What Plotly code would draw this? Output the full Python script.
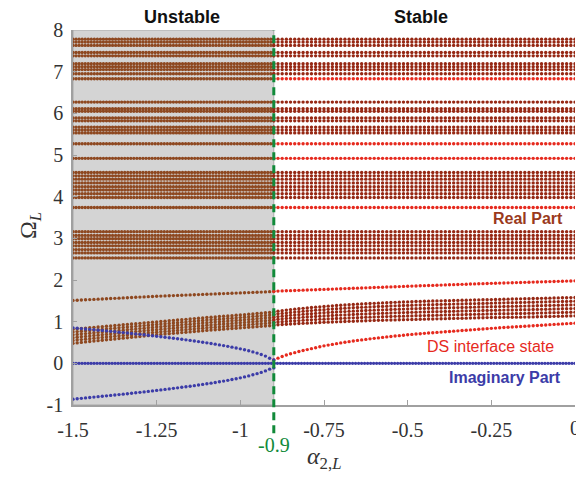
import numpy as np
import plotly.graph_objects as go

# ---------------------------------------------------------------------------
# Sweep grids of the coupling parameter alpha_2,L
# ---------------------------------------------------------------------------
x_rows_unstable = np.linspace(-1.5, -0.9, 67)   # flat bulk rows, alpha < -0.9
x_rows_stable = np.linspace(-0.9, 0.0, 73)      # flat bulk rows, alpha > -0.9
x_curve_unstable = np.linspace(-1.5, -0.9, 49)  # dispersive branches, alpha < -0.9
x_curve_stable = np.linspace(-0.9, 0.0, 73)     # dispersive branches, alpha > -0.9
x_zero = np.linspace(-1.5, 0.0, 168)            # purely real eigenvalues (Im = 0)

# ---------------------------------------------------------------------------
# Flat eigenfrequency levels (real part)
# ---------------------------------------------------------------------------
bulk_levels = [7.78, 7.71, 7.63, 7.46, 7.38, 7.19, 7.12, 7.05, 6.95,
               6.27, 6.11, 6.05, 5.89, 5.82, 5.67, 5.60, 5.53,
               4.58, 4.50, 4.42, 4.33, 4.24, 4.16, 4.07, 3.98,
               3.16, 3.07, 2.99, 2.90, 2.82, 2.73, 2.65, 2.53]
edge_levels = [6.83, 5.27, 4.92, 3.74]

# ---------------------------------------------------------------------------
# Dispersive branches
# ---------------------------------------------------------------------------
# isolated branch near 1.5-2.0
mid_unstable = [1.510, 1.515, 1.520, 1.525, 1.530, 1.535, 1.540, 1.545, 1.550, 1.555,
                1.560, 1.565, 1.570, 1.575, 1.580, 1.585, 1.590, 1.595, 1.600, 1.605,
                1.610, 1.614, 1.618, 1.622, 1.626, 1.630, 1.634, 1.638, 1.642, 1.646,
                1.650, 1.654, 1.658, 1.662, 1.666, 1.670, 1.674, 1.678, 1.682, 1.686,
                1.690, 1.694, 1.698, 1.702, 1.706, 1.710, 1.715, 1.720, 1.725]
mid_stable = [1.730, 1.734, 1.738, 1.741, 1.745, 1.749, 1.752, 1.756, 1.760, 1.764,
              1.767, 1.771, 1.775, 1.779, 1.782, 1.786, 1.790, 1.794, 1.797, 1.801,
              1.805, 1.809, 1.812, 1.816, 1.820, 1.824, 1.827, 1.831, 1.835, 1.839,
              1.842, 1.846, 1.850, 1.854, 1.857, 1.861, 1.864, 1.868, 1.871, 1.875,
              1.878, 1.882, 1.885, 1.889, 1.892, 1.896, 1.899, 1.903, 1.906, 1.910,
              1.913, 1.917, 1.920, 1.923, 1.926, 1.929, 1.932, 1.935, 1.938, 1.941,
              1.944, 1.947, 1.950, 1.953, 1.956, 1.959, 1.962, 1.965, 1.968, 1.971,
              1.974, 1.977, 1.980]

# lowest bulk band: lower and upper edges
band_lo_unstable = [0.480, 0.491, 0.503, 0.514, 0.525, 0.535, 0.545, 0.555, 0.565, 0.575,
                    0.585, 0.595, 0.605, 0.615, 0.625, 0.635, 0.645, 0.655, 0.665, 0.675,
                    0.685, 0.694, 0.703, 0.711, 0.720, 0.729, 0.738, 0.746, 0.755, 0.764,
                    0.773, 0.781, 0.790, 0.798, 0.805, 0.813, 0.820, 0.828, 0.835, 0.843,
                    0.850, 0.858, 0.865, 0.873, 0.880, 0.888, 0.895, 0.903, 0.910]
band_hi_unstable = [0.820, 0.829, 0.838, 0.846, 0.855, 0.864, 0.873, 0.881, 0.890, 0.899,
                    0.908, 0.916, 0.925, 0.934, 0.943, 0.951, 0.960, 0.969, 0.978, 0.986,
                    0.995, 1.004, 1.013, 1.021, 1.030, 1.039, 1.048, 1.056, 1.065, 1.074,
                    1.083, 1.091, 1.100, 1.108, 1.115, 1.123, 1.130, 1.138, 1.145, 1.153,
                    1.160, 1.169, 1.178, 1.186, 1.195, 1.204, 1.213, 1.221, 1.230]
band_lo_stable = [0.920, 0.926, 0.933, 0.939, 0.945, 0.950, 0.955, 0.960, 0.965, 0.970,
                  0.975, 0.980, 0.985, 0.989, 0.993, 0.996, 1.000, 1.004, 1.008, 1.011,
                  1.015, 1.019, 1.023, 1.026, 1.030, 1.033, 1.035, 1.038, 1.040, 1.043,
                  1.045, 1.048, 1.050, 1.053, 1.055, 1.058, 1.060, 1.063, 1.065, 1.068,
                  1.070, 1.073, 1.075, 1.078, 1.080, 1.083, 1.085, 1.088, 1.090, 1.093,
                  1.095, 1.098, 1.100, 1.101, 1.103, 1.104, 1.105, 1.106, 1.108, 1.109,
                  1.110, 1.113, 1.115, 1.118, 1.120, 1.123, 1.125, 1.128, 1.130, 1.133,
                  1.135, 1.138, 1.140]
band_hi_stable = [1.240, 1.253, 1.265, 1.278, 1.290, 1.300, 1.310, 1.320, 1.330, 1.339,
                  1.348, 1.356, 1.365, 1.373, 1.380, 1.388, 1.395, 1.401, 1.408, 1.414,
                  1.420, 1.425, 1.430, 1.435, 1.440, 1.445, 1.450, 1.455, 1.460, 1.464,
                  1.468, 1.471, 1.475, 1.479, 1.483, 1.486, 1.490, 1.493, 1.495, 1.498,
                  1.500, 1.503, 1.505, 1.508, 1.510, 1.513, 1.515, 1.518, 1.520, 1.523,
                  1.525, 1.528, 1.530, 1.533, 1.535, 1.538, 1.540, 1.543, 1.545, 1.548,
                  1.550, 1.553, 1.555, 1.558, 1.560, 1.563, 1.565, 1.568, 1.570, 1.573,
                  1.575, 1.578, 1.580]
band_fracs = [0.0, 0.2, 0.4, 0.6, 0.8, 1.0]

# DS interface state (real part, stable side)
ds_state = [0.080, 0.125, 0.165, 0.200, 0.230, 0.257, 0.283, 0.307, 0.330, 0.353,
            0.375, 0.397, 0.420, 0.438, 0.455, 0.473, 0.490, 0.505, 0.520, 0.535,
            0.550, 0.563, 0.575, 0.588, 0.600, 0.611, 0.623, 0.634, 0.645, 0.655,
            0.665, 0.675, 0.685, 0.694, 0.703, 0.711, 0.720, 0.728, 0.735, 0.743,
            0.750, 0.758, 0.765, 0.773, 0.780, 0.788, 0.795, 0.803, 0.810, 0.818,
            0.825, 0.833, 0.840, 0.846, 0.853, 0.859, 0.865, 0.871, 0.878, 0.884,
            0.890, 0.896, 0.903, 0.909, 0.915, 0.921, 0.928, 0.934, 0.940, 0.946,
            0.953, 0.959, 0.965]

# imaginary parts of the complex-conjugate pair (unstable side)
imag_upper = [0.852, 0.843, 0.834, 0.825, 0.816, 0.806, 0.797, 0.787, 0.778, 0.768,
              0.758, 0.748, 0.738, 0.728, 0.717, 0.707, 0.696, 0.685, 0.674, 0.662,
              0.651, 0.639, 0.627, 0.615, 0.602, 0.590, 0.577, 0.564, 0.550, 0.536,
              0.522, 0.507, 0.492, 0.476, 0.460, 0.443, 0.426, 0.408, 0.389, 0.369,
              0.348, 0.325, 0.301, 0.275, 0.246, 0.213, 0.174, 0.123, 0.080]
imag_lower = [-0.860, -0.850, -0.840, -0.830, -0.820, -0.810, -0.800, -0.790, -0.780, -0.770,
              -0.760, -0.750, -0.740, -0.729, -0.718, -0.707, -0.696, -0.685, -0.674, -0.662,
              -0.650, -0.638, -0.626, -0.613, -0.600, -0.588, -0.575, -0.562, -0.549, -0.535,
              -0.521, -0.506, -0.491, -0.476, -0.460, -0.443, -0.426, -0.408, -0.389, -0.369,
              -0.348, -0.325, -0.301, -0.275, -0.248, -0.217, -0.182, -0.140, -0.110]

# ---------------------------------------------------------------------------
# Style
# ---------------------------------------------------------------------------
C_BROWN = "#8E4820"
C_DARKRED = "#962814"
C_RED = "#E62A1E"
C_BLUE = "#3C3CA8"
C_GREEN = "#118A3A"
C_SHADE = "#D4D4D4"
C_AXIS = "#A0A0A0"
C_TEXT = "#333333"
SERIF = "Liberation Serif"
SANS = "Liberation Sans"
MS = 3.4


def rows(xgrid, levels):
    xs, ys = [], []
    for lv in levels:
        xs.extend(xgrid)
        ys.extend([lv] * len(xgrid))
    return xs, ys


def band(xgrid, lo, hi):
    xs, ys = [], []
    lo = np.asarray(lo)
    hi = np.asarray(hi)
    for f in band_fracs:
        xs.extend(xgrid)
        ys.extend(lo + f * (hi - lo))
    return xs, ys


def dots(x, y, color, size=MS):
    return go.Scatter(x=list(x), y=list(y), mode="markers",
                      marker=dict(color=color, size=size, line=dict(width=0)),
                      hoverinfo="skip", showlegend=False, cliponaxis=True)


fig = go.Figure()

# unstable side: everything brown
xu, yu = rows(x_rows_unstable, bulk_levels + edge_levels)
fig.add_trace(dots(xu, yu, C_BROWN))
xb, yb = band(x_curve_unstable, band_lo_unstable, band_hi_unstable)
fig.add_trace(dots(xb, yb, C_BROWN))
fig.add_trace(dots(x_curve_unstable, mid_unstable, C_BROWN))

# stable side: bulk rows dark red, edge rows bright red
xs_, ys_ = rows(x_rows_stable, bulk_levels)
fig.add_trace(dots(xs_, ys_, C_DARKRED))
xe, ye = rows(x_rows_stable, edge_levels)
fig.add_trace(dots(xe, ye, C_RED))
xb, yb = band(x_curve_stable, band_lo_stable, band_hi_stable)
fig.add_trace(dots(xb, yb, C_DARKRED))
fig.add_trace(dots(x_curve_stable, mid_stable, C_RED))
fig.add_trace(dots(x_curve_stable, ds_state, C_RED))

# imaginary parts
fig.add_trace(dots(x_zero, [0.0] * len(x_zero), C_BLUE))
fig.add_trace(dots(x_curve_unstable, imag_upper, C_BLUE))
fig.add_trace(dots(x_curve_unstable, imag_lower, C_BLUE))

# shaded unstable region and threshold line
fig.add_shape(type="rect", xref="x", yref="y", x0=-1.5, x1=-0.9, y0=-1, y1=8,
              fillcolor=C_SHADE, line=dict(color="#A8A8A8", width=1), layer="below")
fig.add_shape(type="line", xref="x", yref="paper", x0=-0.9, x1=-0.9, y0=-0.075, y1=1.0,
              line=dict(color=C_GREEN, width=3, dash="8px,5px"), layer="above")


def label(x, y, text, font, xref="x", yref="y", **kw):
    return dict(x=x, y=y, xref=xref, yref=yref, text=text, font=font,
                showarrow=False, xanchor="center", yanchor="middle", **kw)


annotations = [
    label(-1.174, 1.035, "<b>Unstable</b>", dict(family=SANS, size=18, color="#111111"), yref="paper"),
    label(-0.459, 1.035, "<b>Stable</b>", dict(family=SANS, size=18, color="#111111"), yref="paper"),
    label(-0.141, 3.48, "<b>Real Part</b>", dict(family=SANS, size=16, color="#9A3A1C")),
    label(-0.253, 0.40, "DS interface state", dict(family=SANS, size=16, color=C_RED)),
    label(-0.21, -0.34, "<b>Imaginary Part</b>", dict(family=SANS, size=16, color=C_BLUE)),
    label(-0.9, -0.107, "-0.9", dict(family=SERIF, size=20, color=C_GREEN), yref="paper"),
    label(0.0, -0.062, "0", dict(family=SERIF, size=20, color=C_TEXT), yref="paper"),
    label(-0.75, -0.141, "<i>α</i><sub>2,<i>L</i></sub>",
          dict(family=SERIF, size=24, color=C_TEXT), yref="paper"),
    label(-0.0857, 0.48, "Ω<sub><i>L</i></sub>", dict(family=SERIF, size=24, color=C_TEXT),
          xref="paper", yref="paper", textangle=-90),
]

x_ticks = [-1.5, -1.25, -1, -0.75, -0.5, -0.25, 0]
x_tick_text = ["-1.5", "-1.25", "-1", "-0.75", "-0.5", "-0.25", ""]
y_ticks = [-1, 0, 1, 2, 3, 4, 5, 6, 7, 8]
y_tick_text = ["-1", "0", "1", "2", "3", "4", "5", "6", "7", "8"]

fig.update_layout(
    width=576, height=478,
    margin=dict(l=73, r=1, t=30, b=73),
    paper_bgcolor="white", plot_bgcolor="white",
    annotations=annotations,
    xaxis=dict(range=[-1.5, 0], tickvals=x_ticks, ticktext=x_tick_text,
               ticks="inside", ticklen=5, tickcolor=C_AXIS, tickwidth=1,
               ticklabelstandoff=6,
               showline=True, linecolor=C_AXIS, linewidth=1.5,
               showgrid=False, zeroline=False,
               tickfont=dict(family=SERIF, size=20, color=C_TEXT)),
    yaxis=dict(range=[-1, 8], tickvals=y_ticks, ticktext=y_tick_text,
               ticks="inside", ticklen=4, tickcolor=C_AXIS, tickwidth=1,
               ticklabelstandoff=4,
               showline=True, linecolor=C_AXIS, linewidth=1.5,
               showgrid=False, zeroline=False,
               tickfont=dict(family=SERIF, size=20, color=C_TEXT)),
)

fig.write_html("out.html")
